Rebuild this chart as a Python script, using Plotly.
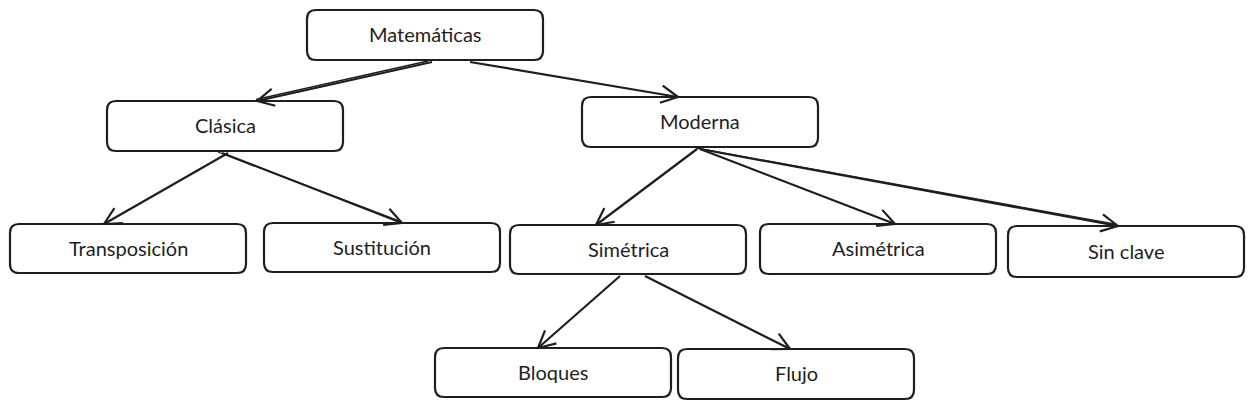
import math
import plotly.graph_objects as go

# nodes of the tree and who hangs from whom
labels = ["Matemáticas", "Clásica", "Moderna", "Transposición", "Sustitución",
          "Simétrica", "Asimétrica", "Sin clave", "Bloques", "Flujo"]
parents = ["", "Matemáticas", "Matemáticas", "Clásica", "Clásica",
           "Moderna", "Moderna", "Moderna", "Simétrica", "Simétrica"]

# layout (pixels, y measured from the top)
box_x0 = [307, 107, 582, 10, 264, 510, 760, 1008, 435, 678]
box_y0 = [10, 101, 97, 224, 223, 225, 224, 226, 348, 349]
box_w = 236
box_h = [50, 50, 50, 49, 49, 49, 50, 51, 49, 50]
# where each arrow leaves the parent and where it lands on the child
arrow_from_x = [None, 432, 470, 228, 222, 697, 700, 700, 620, 645]
arrow_to_x = [None, 257, 678, 104, 402, 596, 895, 1118, 538, 790]
# the hand-drawn look doubles some strokes
double_stroke = [False, True, False, False, True, False, False, True, False, False]

W, H = 1254, 409
PAD = 8  # the page body keeps an 8px margin, so shift the view to compensate
ink = "#1e1e1e"

fig = go.Figure()


def rounded_rect(x0, y0, w, h, r=9):
    x1, y1 = x0 + w, y0 + h
    return (f"M {x0+r},{y0} L {x1-r},{y0} Q {x1},{y0} {x1},{y0+r} "
            f"L {x1},{y1-r} Q {x1},{y1} {x1-r},{y1} L {x0+r},{y1} "
            f"Q {x0},{y1} {x0},{y1-r} L {x0},{y0+r} Q {x0},{y0} {x0+r},{y0} Z")


idx = {name: i for i, name in enumerate(labels)}

for i, name in enumerate(labels):
    fig.add_shape(type="path", path=rounded_rect(box_x0[i], box_y0[i], box_w, box_h[i]),
                  line=dict(color=ink, width=2.2), fillcolor="white", layer="above")
    fig.add_annotation(x=box_x0[i] + box_w / 2, y=box_y0[i] + box_h[i] / 2 - 1, text=name,
                       showarrow=False, font=dict(family="Lato, Noto Sans", size=20, color=ink))

# arrows
for i, p in enumerate(parents):
    if not p:
        continue
    j = idx[p]
    x0, y0 = arrow_from_x[i], box_y0[j] + box_h[j] + 2
    x1, y1 = arrow_to_x[i], box_y0[i]
    fig.add_shape(type="line", x0=x0, y0=y0, x1=x1, y1=y1, line=dict(color=ink, width=2.2))
    if double_stroke[i]:
        fig.add_shape(type="line", x0=x0 - 4, y0=y0 - 1, x1=x1 - 1, y1=y1 - 1.5,
                      line=dict(color=ink, width=1.3))
    ang = math.atan2(y1 - y0, x1 - x0)
    for s in (-1, 1):
        a = ang + math.pi + s * math.radians(27)
        fig.add_shape(type="line", x0=x1, y0=y1, x1=x1 + 19 * math.cos(a), y1=y1 + 19 * math.sin(a),
                      line=dict(color=ink, width=2.2))

fig.update_xaxes(range=[PAD, W - PAD], visible=False, fixedrange=True)
fig.update_yaxes(range=[H - PAD, PAD], visible=False, fixedrange=True)
fig.update_layout(width=W - 2 * PAD, height=H - 2 * PAD, margin=dict(l=0, r=0, t=0, b=0),
                  plot_bgcolor="white", paper_bgcolor="white", showlegend=False)

fig.write_html("out.html", config={"displayModeBar": False})
